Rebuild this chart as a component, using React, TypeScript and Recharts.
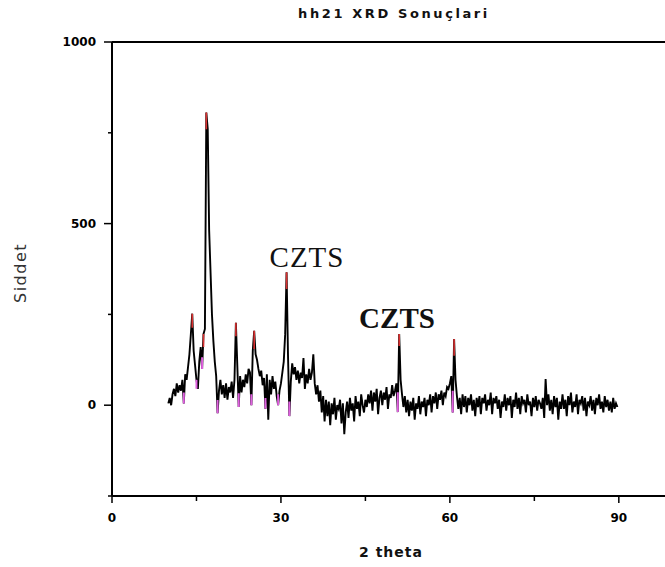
import { LineChart, Line, XAxis, YAxis, ReferenceLine } from 'recharts';

// scan starts at 10 deg, one reading every 0.25 deg
const SCAN_START = 10;
const SCAN_STEP = 0.25;

// intensity readings, 20 per row (5 deg per row)
const intensity = [
  5, 20, 0, 30, 45, 25, 60, 35, 55, 40, 70, 5, 85, 70, 105, 140, 195, 252, 150, 110,
  70, 45, 120, 160, 100, 196, 210, 806, 760, 482, 366, 250, 177, 120, 80, -22, 40, 70, 30, 55,
  20, 60, 15, 50, 35, 65, 20, 70, 227, 110, -5, 80, 35, 70, 50, 85, 60, 100, 90, 0,
  150, 205, 140, 125, 100, 80, 95, 55, 75, -10, 85, -40, 70, 30, 80, 45, 65, 25, 0, 40,
  60, 90, 120, 195, 366, 140, -30, 65, 115, 85, 105, 70, 95, 60, 90, 75, 130, 45, 85, 60,
  100, 70, 90, 140, 60, 30, 55, 10, 40, -20, 25, -45, 15, -30, 10, -55, 5, -25, 20, -40,
  0, -10, 15, -50, 5, -80, -20, 10, -35, 20, -15, 5, -45, 25, -10, 10, -30, 30, 0, -20,
  15, -5, 30, 5, 40, -15, 35, 10, 45, -25, 20, 40, 0, 35, 15, 50, -10, 30, 20, 55,
  25, 40, 60, -19, 196, 70, 30, -5, 25, -20, 15, -30, 10, -15, 20, -40, 5, -10, 25, -25,
  10, -5, 20, -30, 15, 0, 30, -20, 25, 5, 35, -10, 30, 15, 40, 0, 35, 25, 50, 45,
  60, 80, -20, 182, 70, 25, -10, 20, -25, 30, -5, 25, -20, 20, 0, 30, -15, 15, -30, 20,
  -5, 25, -25, 20, 5, 30, -15, 15, 0, 35, -25, 20, 5, 25, -10, 15, -35, 10, -5, 30,
  -15, 20, 0, 25, -35, 15, -5, 35, -10, 20, -25, 25, 5, 15, -20, 30, 0, 10, -30, 20,
  -5, 25, -15, 15, 5, -10, 20, -35, 72, 0, 30, -15, 15, -25, 25, -5, 20, -40, 10, -10,
  30, -10, 15, -30, 25, 0, 35, -20, 10, -5, 30, -25, 15, 5, 25, -15, 20, -30, 10, 0,
  25, -15, 15, -25, 20, 0, 30, -10, 10, -20, 25, -5, 15, -15, 10, -20, 20, -10, 5, -5,
];

// red peak tips (top -> lower end)
const tipX = [14.25, 16.25, 16.75, 22, 25.25, 31, 51, 60.75];
const tipTop = [252, 196, 806, 227, 205, 366, 196, 182];
const tipLow = [213, 160, 760, 190, 155, 320, 163, 136];

// magenta base marks
const baseX = [12.75, 15, 16, 18.75, 22.5, 24.75, 27.25, 29.5, 31.5, 50.75, 60.5];
const baseTop = [35, 70, 132, 14, 33, 30, 20, 30, 10, 36, 40];
const baseLow = [5, 45, 100, -22, -5, 0, -10, 0, -30, -19, -20];

const X_MAJOR = [0, 30, 60, 90];
const X_TICKS = [0, 15, 30, 45, 60, 75, 90];
const Y_MAJOR = [0, 500, 1000];
const Y_TICKS = [-250, 0, 250, 500, 750, 1000];

const scan = intensity.map((v, i) => ({ x: SCAN_START + i * SCAN_STEP, v }));

function segments(xs: number[], tops: number[], lows: number[]) {
  const out: { x: number; v: number | null }[] = [];
  xs.forEach((x, i) => {
    out.push({ x, v: tops[i] }, { x, v: lows[i] }, { x, v: null });
  });
  return out;
}

const tipData = segments(tipX, tipTop, tipLow);
const baseData = segments(baseX, baseTop, baseLow);

const FONT = 'DejaVu Sans';

function XTick({ x, y, payload }: any) {
  const major = X_MAJOR.includes(payload.value);
  return (
    <g>
      <line x1={x} x2={x} y1={y} y2={y + (major ? 7 : 5)} stroke="#000" strokeWidth={1.5} />
      {major && (
        <text x={x} y={y + 26} textAnchor="middle" fontSize={12} fontWeight="bold" fontFamily={FONT} fill="#000">
          {payload.value}
        </text>
      )}
    </g>
  );
}

function YTick({ x, y, payload }: any) {
  const major = Y_MAJOR.includes(payload.value);
  return (
    <g>
      <line x1={x - (major ? 8 : 4)} x2={x} y1={y} y2={y} stroke="#000" strokeWidth={1.5} />
      {major && (
        <text x={x - 16} y={y + 4} textAnchor="end" fontSize={12} fontWeight="bold" fontFamily={FONT} fill="#000">
          {payload.value}
        </text>
      )}
    </g>
  );
}

export default function App() {
  return (
    <div style={{ position: 'absolute', left: 0, top: 0, width: 665, height: 567, background: '#fff' }}>
      <LineChart width={665} height={567} margin={{ top: 42, right: 0, bottom: 41, left: 52 }}>
        <XAxis
          dataKey="x"
          type="number"
          domain={[0, 98.2]}
          allowDataOverflow
          ticks={X_TICKS}
          interval={0}
          height={30}
          tickSize={0}
          tickMargin={0}
          tick={<XTick />}
          tickLine={false}
          axisLine={{ stroke: '#000', strokeWidth: 2 }}
        />
        <YAxis
          type="number"
          domain={[-250, 1000]}
          allowDataOverflow
          ticks={Y_TICKS}
          interval={0}
          width={60}
          tickSize={0}
          tickMargin={0}
          tick={<YTick />}
          tickLine={false}
          axisLine={{ stroke: '#000', strokeWidth: 2 }}
        />
        <ReferenceLine y={1000} stroke="#000" strokeWidth={2} />
        <Line
          data={scan}
          dataKey="v"
          stroke="#000"
          strokeWidth={1.9}
          dot={false}
          isAnimationActive={false}
        />
        <Line
          data={baseData}
          dataKey="v"
          stroke="#e060e0"
          strokeWidth={2}
          dot={false}
          isAnimationActive={false}
        />
        <Line
          data={tipData}
          dataKey="v"
          stroke="#d83030"
          strokeWidth={1.6}
          dot={false}
          isAnimationActive={false}
        />
      </LineChart>
      <svg width={665} height={567} style={{ position: 'absolute', left: 0, top: 0, pointerEvents: 'none' }}>
        <text x={394} y={18} textAnchor="middle" fontSize={13} fontWeight="bold" letterSpacing={2.6} fontFamily={FONT} fill="#111">
          hh21 XRD Sonuçlari
        </text>
        <text x={391} y={557} textAnchor="middle" fontSize={14} fontWeight="bold" letterSpacing={1} fontFamily={FONT} fill="#111">
          2 theta
        </text>
        <text
          x={0}
          y={0}
          transform="translate(26 273) rotate(-90)"
          textAnchor="middle"
          fontSize={16}
          letterSpacing={1.5}
          fontFamily={FONT}
          fill="#333"
        >
          Siddet
        </text>
        <text x={307} y={267} textAnchor="middle" fontSize={29} letterSpacing={1} fontFamily="Liberation Serif" fill="#111">
          CZTS
        </text>
        <text x={397} y={328} textAnchor="middle" fontSize={29} fontWeight="bold" fontFamily="Liberation Serif" fill="#111">
          CZTS
        </text>
      </svg>
    </div>
  );
}
